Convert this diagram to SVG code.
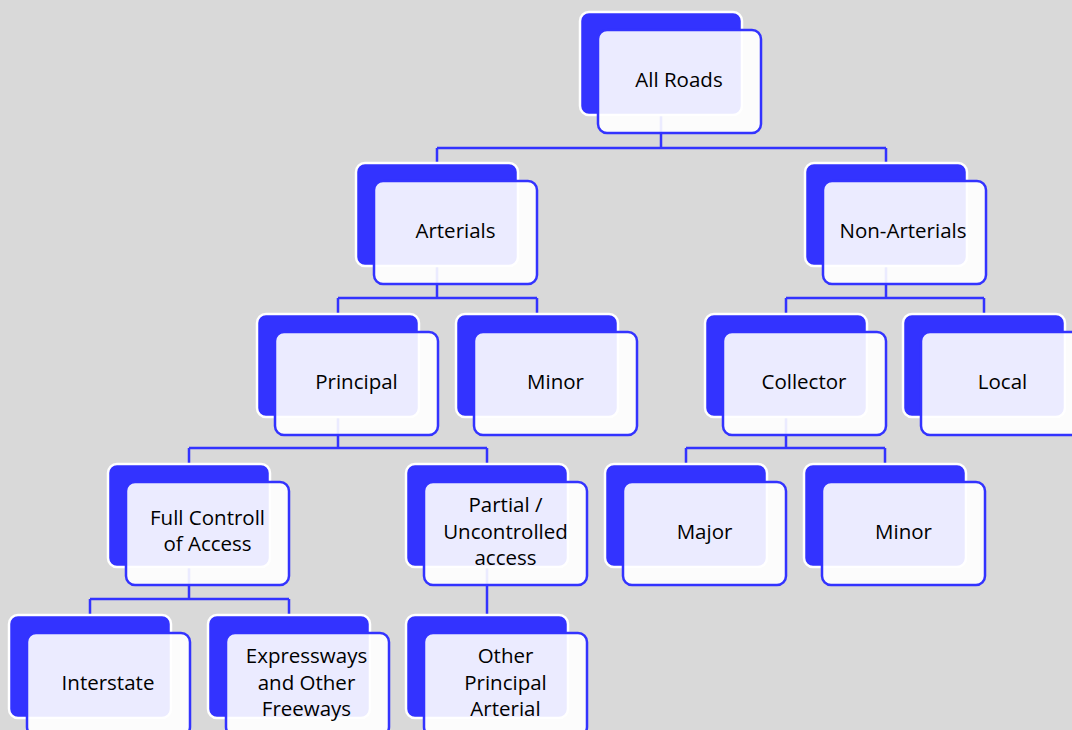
<svg xmlns="http://www.w3.org/2000/svg" width="1072" height="730" viewBox="0 0 1072 730">
<style>
.bg{fill:#D9D9D9}
.back{fill:#3333FF;stroke:#FFFFFF;stroke-width:2.5}
.front{fill:#FFFFFF;fill-opacity:0.9;stroke:#3333FF;stroke-width:2.5}
.lbl{font-family:"Open Sans","Liberation Sans",sans-serif;font-size:20.5px;fill:#000;text-anchor:middle}
.conn{fill:none;stroke:#3333FF;stroke-width:2.5}
</style>
<rect class="bg" x="0" y="0" width="1072" height="730"/>
<g id="connectors">
<path class="conn" d="M661 115 V148 M437 148 H886 M437 148 V163 M886 148 V163"/>
<path class="conn" d="M437 266 V298 M338 298 H537 M338 298 V314 M537 298 V314"/>
<path class="conn" d="M886 266 V298 M786 298 H984 M786 298 V314 M984 298 V314"/>
<path class="conn" d="M338 417 V448 M189 448 H487 M189 448 V464 M487 448 V464"/>
<path class="conn" d="M786 417 V448 M686 448 H885 M686 448 V464 M885 448 V464"/>
<path class="conn" d="M189 567 V599 M90 599 H289 M90 599 V615 M289 599 V615"/>
<path class="conn" d="M487 567 V615"/>
</g>
<g id="allroads" transform="translate(580,12)"><rect class="back" width="162" height="103" rx="9"/><rect class="front" x="18" y="18" width="163" height="103" rx="9"/><text class="lbl" x="99" y="75">All Roads</text></g>
<g id="arterials" transform="translate(356,163)"><rect class="back" width="162" height="103" rx="9"/><rect class="front" x="18" y="18" width="163" height="103" rx="9"/><text class="lbl" x="99.5" y="75">Arterials</text></g>
<g id="nonarterials" transform="translate(805,163)"><rect class="back" width="162" height="103" rx="9"/><rect class="front" x="18" y="18" width="163" height="103" rx="9"/><text class="lbl" x="98" y="75">Non-Arterials</text></g>
<g id="principal" transform="translate(257,314)"><rect class="back" width="162" height="103" rx="9"/><rect class="front" x="18" y="18" width="163" height="103" rx="9"/><text class="lbl" x="99.5" y="75">Principal</text></g>
<g id="minor-arterial" transform="translate(456,314)"><rect class="back" width="162" height="103" rx="9"/><rect class="front" x="18" y="18" width="163" height="103" rx="9"/><text class="lbl" x="99.5" y="75">Minor</text></g>
<g id="collector" transform="translate(705,314)"><rect class="back" width="162" height="103" rx="9"/><rect class="front" x="18" y="18" width="163" height="103" rx="9"/><text class="lbl" x="99" y="75">Collector</text></g>
<g id="local" transform="translate(903,314)"><rect class="back" width="162" height="103" rx="9"/><rect class="front" x="18" y="18" width="163" height="103" rx="9"/><text class="lbl" x="99.5" y="75">Local</text></g>
<g id="fullcontrol" transform="translate(108,464)"><rect class="back" width="162" height="103" rx="9"/><rect class="front" x="18" y="18" width="163" height="103" rx="9"/><text class="lbl" x="99.5" y="61">Full Controll</text><text class="lbl" x="99.5" y="87">of Access</text></g>
<g id="partial" transform="translate(406,464)"><rect class="back" width="162" height="103" rx="9"/><rect class="front" x="18" y="18" width="163" height="103" rx="9"/><text class="lbl" x="99.5" y="48">Partial /</text><text class="lbl" x="99.5" y="74.5">Uncontrolled</text><text class="lbl" x="99.5" y="101">access</text></g>
<g id="major" transform="translate(605,464)"><rect class="back" width="162" height="103" rx="9"/><rect class="front" x="18" y="18" width="163" height="103" rx="9"/><text class="lbl" x="99.5" y="75">Major</text></g>
<g id="minor-collector" transform="translate(804,464)"><rect class="back" width="162" height="103" rx="9"/><rect class="front" x="18" y="18" width="163" height="103" rx="9"/><text class="lbl" x="99.5" y="75">Minor</text></g>
<g id="interstate" transform="translate(9,615)"><rect class="back" width="162" height="103" rx="9"/><rect class="front" x="18" y="18" width="163" height="103" rx="9"/><text class="lbl" x="99" y="75">Interstate</text></g>
<g id="expressways" transform="translate(208,615)"><rect class="back" width="162" height="103" rx="9"/><rect class="front" x="18" y="18" width="163" height="103" rx="9"/><text class="lbl" x="98.5" y="48">Expressways</text><text class="lbl" x="98.5" y="74.5">and Other</text><text class="lbl" x="98.5" y="101">Freeways</text></g>
<g id="otherprincipal" transform="translate(406,615)"><rect class="back" width="162" height="103" rx="9"/><rect class="front" x="18" y="18" width="163" height="103" rx="9"/><text class="lbl" x="99.5" y="48">Other</text><text class="lbl" x="99.5" y="74.5">Principal</text><text class="lbl" x="99.5" y="101">Arterial</text></g>
</svg>
